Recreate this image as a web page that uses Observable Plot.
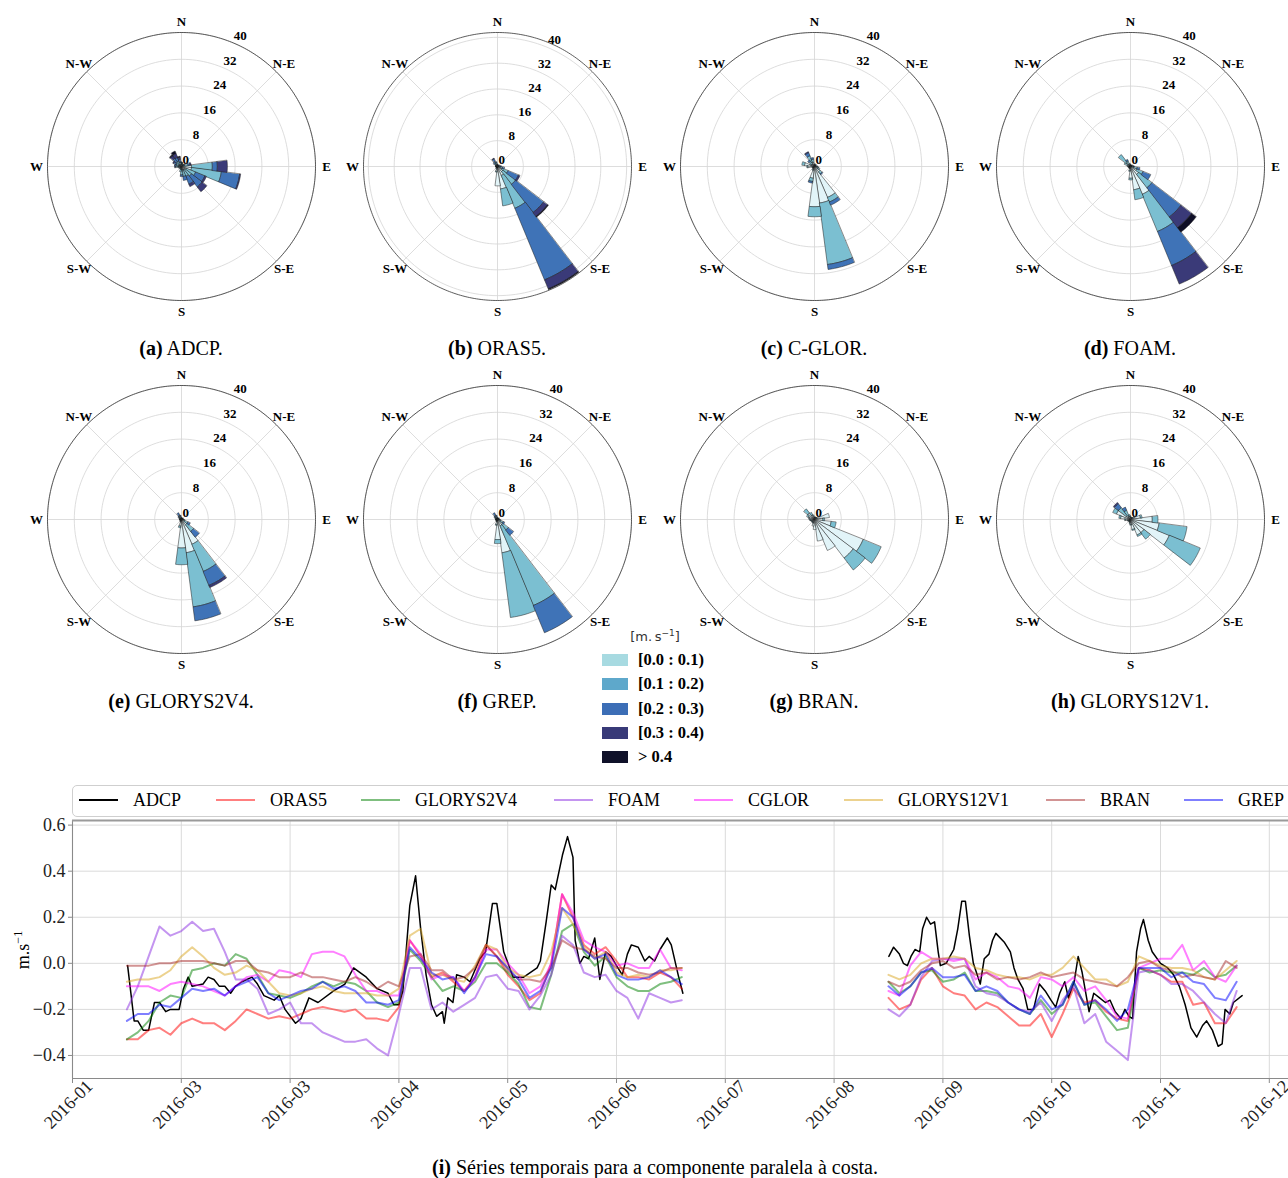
<!DOCTYPE html>
<html><head><meta charset="utf-8">
<script src="https://cdn.jsdelivr.net/npm/d3@7"></script>
<script src="https://cdn.jsdelivr.net/npm/@observablehq/plot@0.6"></script>
<style>
html,body{margin:0;padding:0;background:#fff;}
#page{position:relative;width:1288px;height:1178px;overflow:hidden;font-family:"Liberation Serif",serif;color:#000;}
.abs{position:absolute;}
.cap{position:absolute;font-size:20px;white-space:nowrap;transform:translate(-50%,-50%);}
</style></head><body>
<div id="page"></div>
<script>
// ---------------- DATA ----------------
const speedBins = ["[0.0 : 0.1)", "[0.1 : 0.2)", "[0.2 : 0.3)", "[0.3 : 0.4)", "> 0.4"];
const binColors = ["#e2f4f8", "#7bbfd1", "#3f73b7", "#3a3a78", "#0e0e26"];
const legendColors = ["#a7dae1", "#5ea8cb", "#3c6eb6", "#383a78", "#0f1129"];
const compassLabels = ["N", "N-E", "E", "S-E", "S", "S-W", "W", "N-W"];
const radialTicks = [0, 8, 16, 24, 32, 40];
const panelLetters = ["a", "b", "c", "d", "e", "f", "g", "h"];
const panelNames = ["ADCP.", "ORAS5.", "C-GLOR.", "FOAM.", "GLORYS2V4.", "GREP.", "BRAN.", "GLORYS12V1."];
const panelRmax = [40, 41.5, 40, 40, 40, 40, 40, 40];

// rows: [direction (deg), freq % per speed bin 1..5]
const roseADCP = [
  [0,0.6,0.5,0.3,0,0],[15,0.5,0.5,0.2,0,0],[30,0.5,0.3,0,0,0],[45,0.4,0.3,0,0,0],[60,0.5,0.4,0.2,0,0],
  [75,0.8,1.2,0.6,0.3,0],[90,3,6.2,1.5,3,0],[105,3,9,5.5,0.3,0],[120,1.5,3,3,0.5,0],[135,1.2,2.5,4,1.8,0],
  [150,1.2,2,2.5,0.8,0],[165,1,2,1.2,0,0],[180,1,1.5,0.5,0,0],[195,0.8,0.8,0,0,0],[210,0.5,0.4,0,0,0],
  [225,0.4,0.3,0,0,0],[240,0.4,0.3,0,0,0],[255,0.6,0.4,0,0,0],[270,1,0.8,0.3,0,0],[285,0.8,0.8,0.5,0,0],
  [300,0.8,1,0.7,0.3,0],[315,0.8,1.2,1.2,1,0.3],[330,0.8,1,1.2,1.2,0.8],[345,0.6,0.8,0.8,0.6,0.3]
];
const roseORAS5 = [
  [0,0.5,0.3,0,0,0],[15,0.4,0.2,0,0,0],[30,0.3,0.2,0,0,0],[45,0.3,0.2,0,0,0],[60,0.3,0.2,0,0,0],
  [75,0.4,0.3,0,0,0],[90,0.5,0.4,0.3,0,0],[105,0.8,0.8,0.6,0,0],[120,1.5,2,3.5,0.5,0],[135,2,5,11,1.5,0.3],
  [150,3,11,24,3,0.3],[165,7,5.3,0,0,0],[180,6,0,0,0,0],[195,1.5,0.3,0,0,0],[210,0.6,0.3,0,0,0],
  [225,0.3,0.2,0,0,0],[240,0.3,0.2,0,0,0],[255,0.3,0.2,0,0,0],[270,0.4,0.2,0,0,0],[285,0.4,0.2,0,0,0],
  [300,0.4,0.3,0,0,0],[315,0.6,0.6,0.4,0,0],[330,0.8,1,0.8,0.2,0],[345,0.6,0.6,0.3,0,0]
];
const roseCGLOR = [
  [0,0.5,0.3,0,0,0],[15,0.3,0.2,0,0,0],[30,0.5,0.3,0,0,0],[45,0.4,0.2,0,0,0],[60,0.3,0.2,0,0,0],
  [75,0.3,0.2,0,0,0],[90,0.6,0.3,0,0,0],[105,0.8,0.4,0,0,0],[120,1.2,0.5,0,0,0],[135,2,0.8,0.3,0,0],
  [150,10,1.5,1,0,0],[165,11,18.5,1.5,0,0],[180,12,3,0,0,0],[195,3.5,1,0.5,0,0],[210,1,0.3,0,0,0],
  [225,0.5,0.2,0,0,0],[240,0.5,0.2,0,0,0],[255,0.6,0.2,0,0,0],[270,2,0.3,0,0,0],[285,3,0.8,0,0,0],
  [300,1,0.5,0,0,0],[315,1,1,0.5,0,0],[330,1.5,2,1,0.3,0],[345,1.2,1,0.5,0,0]
];
const roseFOAM = [
  [0,0.4,0.3,0,0,0],[15,0.3,0.2,0,0,0],[30,0.3,0.2,0,0,0],[45,0.3,0.2,0,0,0],[60,0.3,0.2,0,0,0],
  [75,0.4,0.3,0,0,0],[90,0.5,0.4,0.2,0,0],[105,1,1,0.8,0,0],[120,2,2,2.5,0,0],[135,3,5,11,4,1.7],
  [150,9,12,11,6,0],[165,7,3,0,0,0],[180,3.5,0.5,0,0,0],[195,1.2,0.3,0,0,0],[210,0.5,0.2,0,0,0],
  [225,0.4,0.2,0,0,0],[240,0.4,0.2,0,0,0],[255,0.4,0.2,0,0,0],[270,0.5,0.3,0,0,0],[285,0.6,0.4,0,0,0],
  [300,1,1,0,0,0],[315,1.5,3,0,0,0],[330,0.8,1,0.5,0,0],[345,0.5,0.4,0,0,0]
];
const roseGLORYS2V4 = [
  [0,0.4,0.3,0,0,0],[15,0.3,0.2,0,0,0],[30,0.3,0.2,0,0,0],[45,0.3,0.2,0,0,0],[60,0.3,0.2,0,0,0],
  [75,0.3,0.2,0,0,0],[90,0.4,0.3,0,0,0],[105,0.6,0.4,0,0,0],[120,1,1,0.8,0,0],[135,2,2.5,2.2,0,0],
  [150,8,8.8,4.5,0.7,0],[165,10,16.3,4.2,0,0],[180,8.5,5,0,0,0],[195,2,0.5,0,0,0],[210,0.6,0.2,0,0,0],
  [225,0.4,0.2,0,0,0],[240,0.3,0.2,0,0,0],[255,0.3,0.2,0,0,0],[270,0.4,0.2,0,0,0],[285,0.4,0.2,0,0,0],
  [300,0.5,0.3,0,0,0],[315,0.5,0.5,0.3,0,0],[330,0.6,0.8,0.8,0,0],[345,0.5,0.5,0.3,0,0]
];
const roseGREP = [
  [0,0.4,0.3,0,0,0],[15,0.3,0.2,0,0,0],[30,0.3,0.2,0,0,0],[45,0.3,0.2,0,0,0],[60,0.3,0.2,0,0,0],
  [75,0.3,0.2,0,0,0],[90,0.4,0.3,0,0,0],[105,0.6,0.4,0,0,0],[120,1,0.8,0.5,0,0],[135,2,2,2,0,0],
  [150,2,25.8,8.8,0,0],[165,10,19.5,0,0,0],[180,6,1.2,0,0,0],[195,1.5,0.3,0,0,0],[210,0.5,0.2,0,0,0],
  [225,0.4,0.2,0,0,0],[240,0.3,0.2,0,0,0],[255,0.3,0.2,0,0,0],[270,0.4,0.2,0,0,0],[285,0.4,0.2,0,0,0],
  [300,0.5,0.3,0,0,0],[315,0.5,0.5,0.3,0,0],[330,0.6,0.8,0.8,0,0],[345,0.5,0.5,0.3,0,0]
];
const roseBRAN = [
  [0,0.5,0.2,0,0,0],[15,0.5,0.3,0,0,0],[30,0.6,0.2,0,0,0],[45,0.6,0.2,0,0,0],[60,0.8,0.2,0,0,0],
  [75,4.5,0,0,0,0],[90,2.5,0.5,0,0,0],[105,5,1.5,0,0,0],[120,15.7,5.8,0,0,0],[135,14.5,4.5,0,0,0],
  [150,10,0,0,0,0],[165,6.5,0,0,0,0],[180,3,0,0,0,0],[195,2,0,0,0,0],[210,1,0.2,0,0,0],
  [225,0.8,0.2,0,0,0],[240,0.8,0.2,0,0,0],[255,1,0.2,0,0,0],[270,1.2,0.3,0,0,0],[285,1.5,0.3,0,0,0],
  [300,2,0.5,0,0,0],[315,2.5,1.5,0,0,0],[330,1.5,0.8,0,0,0],[345,1,0.4,0,0,0]
];
const roseGLORYS12V1 = [
  [0,0.8,0.3,0,0,0],[15,0.5,0.2,0,0,0],[30,0.5,0.2,0,0,0],[45,0.6,0.2,0,0,0],[60,1,0.3,0,0,0],
  [75,3,0.5,0,0,0],[90,6.5,1.7,0,0,0],[105,8.6,8.4,0,0,0],[120,12.5,10,0,0,0],[135,5,2.4,0,0,0],
  [150,5,0.5,0,0,0],[165,3,0.3,0,0,0],[180,1.5,0.2,0,0,0],[195,1,0.2,0,0,0],[210,0.6,0.2,0,0,0],
  [225,0.5,0.2,0,0,0],[240,0.6,0.2,0,0,0],[255,0.8,0.2,0,0,0],[270,1.5,0.3,0,0,0],[285,3,0.5,0,0,0],
  [300,4.5,1.2,0,0,0],[315,1.5,3,1.5,0.4,0],[330,1,2,1,0,0],[345,1,0.5,0,0,0]
];
const roses = [roseADCP, roseORAS5, roseCGLOR, roseFOAM, roseGLORYS2V4, roseGREP, roseBRAN, roseGLORYS12V1];

// time series (x = days after 2016-01-31)
const tickDays = [0, 30, 60, 90, 120, 150, 180, 210, 240, 270, 300, 330];
const tickLabels = ["2016-01", "2016-03", "2016-03", "2016-04", "2016-05", "2016-06", "2016-07", "2016-08", "2016-09", "2016-10", "2016-11", "2016-12"];
const yTicks = [-0.4, -0.2, 0.0, 0.2, 0.4, 0.6];
const seriesNames = ["ADCP", "ORAS5", "GLORYS2V4", "FOAM", "CGLOR", "GLORYS12V1", "BRAN", "GREP"];
const seriesColors = ["#000000", "#ff0000", "#008000", "#8a2be2", "#ff00ff", "#daa520", "#a52a2a", "#0000ff"];
const daysA = d3.range(15, 169, 3);
const daysB = d3.range(225, 322, 3);

const adcpA = [[15.2,-0.01],[17,-0.25],[18,-0.25],[19.5,-0.29],[21,-0.29],[22.6,-0.17],[24,-0.17],[25.7,-0.21],[27,-0.2],[29.4,-0.2],[30.6,-0.11],[31.9,-0.06],[33,-0.1],[36,-0.09],[37.4,-0.06],[39,-0.07],[40.5,-0.1],[42,-0.1],[43.6,-0.13],[44.9,-0.1],[46.7,-0.08],[49.5,-0.06],[51,-0.09],[52.8,-0.14],[55.6,-0.16],[57,-0.14],[58.6,-0.2],[61.5,-0.26],[63,-0.24],[65.2,-0.15],[67.7,-0.17],[72,-0.12],[75.1,-0.09],[77.5,-0.02],[81,-0.06],[84,-0.11],[87,-0.13],[88.6,-0.18],[90,-0.18],[91.1,-0.12],[93,0.25],[94.6,0.38],[96,0.15],[97.5,-0.05],[99,-0.18],[100.4,-0.23],[102,-0.21],[102.5,-0.26],[103.5,-0.15],[104.9,-0.17],[105.9,-0.05],[108,-0.06],[109.6,-0.08],[112.3,0.02],[113.9,0.05],[115.8,0.26],[117,0.26],[118.9,0.05],[121.5,-0.06],[124.4,-0.06],[128.1,-0.02],[129,0.01],[130.6,0.18],[132,0.34],[133.1,0.32],[135.1,0.47],[136.5,0.55],[138,0.46],[138.6,0.1],[139.9,0],[141,0.03],[142.3,0.02],[144,0.11],[145.4,-0.07],[147,0.05],[148.5,0.03],[150,-0.01],[151.6,-0.05],[153,0.04],[154.1,0.08],[156,0.07],[157.8,0.01],[159,0.03],[160.5,0.01],[162,0.06],[164,0.11],[165.1,0.08],[167,-0.05],[168.3,-0.13]];
const adcpB = [[225.1,0.03],[226.4,0.07],[228,0.04],[229.1,0],[230.2,-0.01],[231.2,0.03],[232.3,0.06],[233.6,0.05],[234.4,0.15],[235.5,0.2],[236.6,0.17],[237.7,0.18],[238.7,0.05],[239.3,-0.01],[240.9,0],[243,0.06],[244.1,0.15],[245.2,0.27],[246.2,0.27],[247.3,0.12],[248.4,0],[250.3,-0.09],[251.4,0.02],[252.7,0.04],[253.7,0.1],[254.6,0.13],[257,0.09],[258.6,0.05],[259.6,-0.02],[260.7,-0.07],[262.1,-0.11],[263.4,-0.2],[265,-0.2],[266.6,-0.09],[268.2,-0.12],[269.8,-0.16],[271.1,-0.19],[272.2,-0.13],[273.6,-0.08],[274.6,-0.15],[276.2,-0.08],[277.3,0.03],[278.4,-0.04],[280.3,-0.21],[281.6,-0.13],[283.2,-0.15],[284.8,-0.17],[286.1,-0.16],[287.5,-0.21],[289.1,-0.24],[290.2,-0.2],[291.3,-0.23],[292.3,-0.24],[293.4,0.05],[294.5,0.15],[295.3,0.19],[296.6,0.1],[297.7,0.05],[300,0],[302,-0.02],[303.6,-0.05],[305.2,-0.1],[306.8,-0.18],[308.4,-0.28],[310,-0.32],[311.6,-0.27],[312.7,-0.25],[314.3,-0.29],[315.9,-0.36],[317,-0.35],[317.8,-0.2],[319.1,-0.22],[320.1,-0.17],[322.5,-0.14]];

const oras5A = [-0.33,-0.33,-0.29,-0.28,-0.31,-0.26,-0.24,-0.26,-0.26,-0.29,-0.25,-0.2,-0.22,-0.24,-0.23,-0.24,-0.22,-0.2,-0.19,-0.2,-0.21,-0.2,-0.24,-0.24,-0.25,-0.19,0.1,0.03,-0.06,-0.04,-0.08,-0.12,-0.06,0.08,0.03,-0.05,-0.1,-0.16,-0.13,0.0,0.3,0.2,0.08,0.04,0.07,0.01,-0.06,-0.06,-0.07,-0.04,-0.06,-0.11];
const oras5B = [-0.15,-0.2,-0.18,-0.07,-0.02,-0.1,-0.13,-0.14,-0.2,-0.17,-0.19,-0.23,-0.27,-0.27,-0.22,-0.32,-0.22,-0.11,-0.17,-0.16,-0.21,-0.24,-0.25,-0.02,-0.03,-0.05,-0.08,-0.08,-0.18,-0.17,-0.26,-0.26,-0.19];
const glorys2v4A = [-0.33,-0.3,-0.25,-0.17,-0.14,-0.15,-0.03,-0.02,0.0,-0.01,0.04,0.02,-0.05,-0.13,-0.14,-0.15,-0.13,-0.1,-0.08,-0.1,-0.08,-0.09,-0.12,-0.17,-0.19,-0.17,0.06,0.01,-0.06,-0.12,-0.1,-0.12,-0.08,0.0,0.0,-0.04,-0.09,-0.19,-0.2,-0.05,0.14,0.17,0.05,-0.01,0.03,-0.06,-0.1,-0.12,-0.12,-0.09,-0.08,-0.06];
const glorys2v4B = [-0.08,-0.13,-0.1,-0.04,-0.03,-0.08,-0.07,-0.04,-0.12,-0.12,-0.13,-0.17,-0.2,-0.22,-0.16,-0.22,-0.18,-0.08,-0.18,-0.17,-0.23,-0.29,-0.28,-0.02,-0.04,-0.03,-0.04,-0.04,-0.05,-0.02,-0.06,-0.05,-0.01];
const foamA = [-0.2,-0.1,0.03,0.16,0.12,0.14,0.18,0.14,0.15,0.05,-0.07,-0.07,-0.11,-0.22,-0.2,-0.17,-0.26,-0.26,-0.3,-0.32,-0.34,-0.34,-0.33,-0.37,-0.4,-0.22,-0.02,-0.02,-0.2,-0.17,-0.21,-0.18,-0.15,-0.06,-0.05,-0.11,-0.12,-0.2,-0.14,-0.05,0.12,0.08,-0.04,-0.06,-0.05,-0.12,-0.15,-0.24,-0.13,-0.15,-0.17,-0.16];
const foamB = [-0.2,-0.23,-0.18,-0.06,0.01,0.02,0.02,0.02,-0.1,-0.13,-0.14,-0.17,-0.2,-0.21,-0.17,-0.25,-0.16,-0.1,-0.26,-0.22,-0.34,-0.38,-0.42,-0.04,-0.03,-0.05,-0.09,-0.09,-0.12,-0.17,-0.22,-0.26,-0.12];
const cglorA = [-0.1,-0.1,-0.1,-0.12,-0.09,-0.08,-0.09,-0.1,-0.12,-0.14,-0.1,-0.06,-0.05,-0.08,-0.03,-0.04,-0.06,0.04,0.05,0.05,0.03,-0.05,-0.12,-0.12,-0.14,-0.14,0.1,0.04,-0.07,-0.05,-0.06,-0.12,-0.07,0.06,0.06,0.0,-0.05,-0.13,-0.1,0.0,0.3,0.22,0.1,0.07,0.05,-0.01,0.0,-0.02,-0.02,0.06,-0.02,-0.03];
const cglorB = [-0.12,-0.14,-0.01,0.05,0.02,0.02,0.01,0.02,-0.07,-0.04,-0.06,-0.1,-0.11,-0.15,-0.06,-0.07,-0.1,-0.06,-0.12,-0.1,-0.16,-0.23,-0.24,-0.02,0.0,0.02,0.02,0.08,-0.03,0.01,-0.06,-0.08,-0.01];
const glorys12v1A = [-0.08,-0.07,-0.07,-0.06,-0.03,0.03,0.07,0.03,-0.02,-0.05,-0.04,-0.01,-0.03,-0.08,-0.13,-0.14,-0.13,-0.11,-0.1,-0.12,-0.13,-0.13,-0.13,-0.14,-0.14,-0.11,0.12,0.15,-0.05,-0.05,-0.07,-0.08,-0.01,0.08,0.06,-0.02,-0.05,-0.06,-0.05,0.05,0.24,0.17,0.07,0.02,0.05,-0.04,-0.06,-0.05,-0.06,-0.03,-0.03,-0.02];
const glorys12v1B = [-0.05,-0.07,-0.05,0.0,0.02,0.02,0.03,0.02,-0.02,-0.03,-0.05,-0.06,-0.06,-0.07,-0.05,-0.05,-0.02,0.03,-0.02,-0.07,-0.07,-0.1,-0.08,0.03,0.01,-0.01,-0.02,-0.02,-0.03,-0.06,-0.07,-0.03,0.01];
const branA = [-0.01,-0.01,-0.01,0.0,0.0,0.01,0.01,0.01,0.0,-0.01,0.01,0.01,-0.03,-0.04,-0.06,-0.06,-0.04,-0.06,-0.06,-0.07,-0.08,-0.06,-0.08,-0.11,-0.08,-0.1,0.03,0.04,-0.03,-0.03,-0.07,-0.06,-0.02,0.08,0.03,-0.03,-0.07,-0.07,-0.08,-0.02,0.1,0.07,0.06,0.03,0.02,-0.02,-0.02,-0.04,-0.05,-0.04,-0.02,-0.02];
const branB = [-0.08,-0.1,-0.08,-0.03,0.0,0.01,-0.02,-0.01,-0.05,-0.04,-0.07,-0.06,-0.07,-0.06,-0.04,-0.06,-0.05,-0.04,-0.07,-0.08,-0.09,-0.1,-0.06,0.0,0.01,-0.02,-0.03,-0.06,-0.05,-0.06,-0.07,0.01,-0.02];
const grepA = [-0.25,-0.22,-0.22,-0.18,-0.19,-0.15,-0.11,-0.12,-0.11,-0.14,-0.1,-0.08,-0.06,-0.13,-0.16,-0.14,-0.12,-0.11,-0.08,-0.11,-0.1,-0.12,-0.17,-0.17,-0.18,-0.16,0.07,0.02,-0.04,-0.07,-0.06,-0.13,-0.06,0.04,0.03,-0.02,-0.07,-0.15,-0.12,-0.02,0.24,0.2,0.06,0.02,0.04,-0.05,-0.07,-0.07,-0.06,-0.03,-0.06,-0.09];
const grepB = [-0.1,-0.14,-0.1,-0.04,-0.02,-0.06,-0.06,-0.05,-0.12,-0.1,-0.12,-0.17,-0.2,-0.22,-0.14,-0.2,-0.18,-0.08,-0.18,-0.16,-0.2,-0.25,-0.2,-0.02,-0.02,-0.02,-0.06,-0.04,-0.08,-0.09,-0.15,-0.16,-0.08];
const modelSeries = [[oras5A, oras5B], [glorys2v4A, glorys2v4B], [foamA, foamB], [cglorA, cglorB], [glorys12v1A, glorys12v1B], [branA, branB], [grepA, grepB]];

// ---------------- DRAWING ----------------
const page = document.getElementById("page");
const SERIF = "Liberation Serif, Times New Roman, serif";
function el(tag, css, html) { const e = document.createElement(tag); e.style.cssText = css; if (html != null) e.innerHTML = html; page.appendChild(e); return e; }

function rose(rows, rmax) {
  const S = 316, Rpx = 134;
  const L = rmax * (S / 2) / Rpx;
  const rad = a => a * Math.PI / 180;
  const polar = (r, a) => [r * Math.sin(rad(a)), r * Math.cos(rad(a))];
  const segs = [];
  for (const [dir, ...fr] of rows) {
    let r0 = 0;
    fr.forEach((f, bin) => {
      if (!(f > 0)) return;
      const r1 = r0 + f, id = dir + "_" + bin;
      for (let k = 0; k <= 12; k++) { const [x, y] = polar(r1, dir - 7.5 + 15 * k / 12); segs.push({id, bin, x, y}); }
      for (let k = 12; k >= 0; k--) { const [x, y] = polar(r0, dir - 7.5 + 15 * k / 12); segs.push({id, bin, x, y}); }
      r0 = r1;
    });
  }
  const ringPts = [];
  for (const t of radialTicks.filter(t => t > 0)) for (let a = 0; a < 360; a += 2) { const [x, y] = polar(t, a); ringPts.push({t, x, y}); }
  const outer = d3.range(0, 360, 1).map(a => { const [x, y] = polar(rmax, a); return {x, y}; });
  const spokes = d3.range(0, 360, 45).map(a => { const [x, y] = polar(rmax, a); return {x2: x, y2: y}; });
  const comp = compassLabels.map((label, i) => { const [x, y] = polar(rmax * 1.082, i * 45); return {label, x, y}; });
  const rl = radialTicks.map(t => { const [x, y] = polar(t, 22.5); return {t, x, y}; });
  return Plot.plot({
    width: S, height: S, margin: 0,
    x: {domain: [-L, L], range: [0, S], axis: null},
    y: {domain: [-L, L], range: [S, 0], axis: null},
    style: {background: "transparent", overflow: "visible"},
    marks: [
      Plot.line(ringPts, {x: "x", y: "y", z: "t", curve: "linear-closed", stroke: "#d4d4d4", strokeWidth: 0.8}),
      Plot.link(spokes, {x1: () => 0, y1: () => 0, x2: "x2", y2: "y2", stroke: "#d4d4d4", strokeWidth: 0.8}),
      ...binColors.map((c, i) => Plot.line(segs.filter(d => d.bin === i), {x: "x", y: "y", z: "id", curve: "linear-closed", fill: c, stroke: "#1a1a1a", strokeWidth: 0.5})),
      Plot.line(outer, {x: "x", y: "y", curve: "linear-closed", stroke: "#333", strokeWidth: 0.8}),
      Plot.text(comp, {x: "x", y: "y", text: "label", fontWeight: "bold", fontSize: 13, fontFamily: SERIF, fill: "#000"}),
      Plot.text(rl, {x: "x", y: "y", text: d => String(d.t), textAnchor: "start", dx: 1, dy: -7, fontWeight: "bold", fontSize: 13, fontFamily: SERIF, fill: "#000"})
    ]
  });
}

const colCx = [181, 497, 814, 1130];
const rowCy = [166, 519];
const capY = [348, 701];
roses.forEach((rows, i) => {
  const col = i % 4, row = Math.floor(i / 4);
  const svg = rose(rows, panelRmax[i]);
  const wrap = el("div", `position:absolute;left:${colCx[col] - 158}px;top:${rowCy[row] - 158}px;width:316px;height:316px;`);
  wrap.appendChild(svg);
  el("div", `position:absolute;left:${colCx[col]}px;top:${capY[row]}px;font-size:20px;white-space:nowrap;transform:translate(-50%,-50%);font-family:${SERIF};`,
     `<b>(${panelLetters[i]})</b> ${panelNames[i]}`);
});

// speed legend
el("div", `position:absolute;left:655px;top:636px;transform:translate(-50%,-50%);font-family:'DejaVu Sans',sans-serif;font-size:13px;color:#333;white-space:nowrap;`, `[m.&thinsp;s<sup style="font-size:9px">−1</sup>]`);
speedBins.forEach((lab, i) => {
  const cy = 660 + i * 24.3;
  el("div", `position:absolute;left:602px;top:${cy - 6}px;width:26px;height:12px;background:${legendColors[i]};`);
  el("div", `position:absolute;left:638px;top:${cy}px;transform:translateY(-50%);font-family:${SERIF};font-weight:bold;font-size:16.5px;white-space:nowrap;`, lab);
});

// time-series legend box
el("div", `position:absolute;left:72px;top:785px;width:1240px;height:30px;border:1px solid #cfcfcf;border-radius:5px;background:#fff;`);
const legLineX = [79, 216, 361, 554, 694, 844, 1046, 1184];
seriesNames.forEach((n, i) => {
  el("div", `position:absolute;left:${legLineX[i]}px;top:799px;width:39px;height:2px;background:${seriesColors[i]};opacity:${i === 0 ? 1 : 0.5};`);
  el("div", `position:absolute;left:${legLineX[i] + 54}px;top:800px;transform:translateY(-50%);font-family:${SERIF};font-size:18px;white-space:nowrap;`, n);
});

// time series plot
const pxPerDay = 108.8 / 30;
const rowsA = [];
modelSeries.forEach(([a, b], s) => {
  a.forEach((v, k) => rowsA.push({s: s + 1, seg: 0, day: daysA[k], v}));
  b.forEach((v, k) => rowsA.push({s: s + 1, seg: 1, day: daysB[k], v}));
});
const adcpRows = [...adcpA.map(([day, v]) => ({seg: 0, day, v})), ...adcpB.map(([day, v]) => ({seg: 1, day, v}))];
const fmtY = v => (v < 0 ? "−" : "") + Math.abs(v).toFixed(1);

const ts = Plot.plot({
  width: 1288, height: 380, marginLeft: 72, marginRight: 0, marginTop: 50, marginBottom: 72,
  x: {domain: [0, 336], range: [72, 72 + 336 * pxPerDay], axis: null},
  y: {domain: [-0.5, 0.62], range: [308, 50], axis: null},
  style: {fontFamily: SERIF, fontSize: "18px", background: "transparent", overflow: "hidden"},
  marks: [
    Plot.ruleX(tickDays, {x: d => d, stroke: "#d6d6d6", strokeWidth: 0.9}),
    Plot.ruleY(yTicks, {y: d => d, stroke: "#d6d6d6", strokeWidth: 0.9}),
    Plot.ruleX([0], {x: d => d, stroke: "#8a8a8a", strokeWidth: 1.1}),
    Plot.ruleY([-0.5], {y: d => d, stroke: "#8a8a8a", strokeWidth: 1.1}),
    Plot.ruleY([0.62], {y: d => d, stroke: "#9a9a9a", strokeWidth: 2}),
    Plot.axisX({ticks: tickDays, tickFormat: () => "", tickSize: 5, stroke: "#8a8a8a", label: null}),
    Plot.axisY({ticks: yTicks, tickFormat: fmtY, tickSize: 4, tickPadding: 3, stroke: "#8a8a8a", fill: "#222", label: null, fontSize: 18}),
    Plot.text(tickDays, {x: d => d, frameAnchor: "bottom", text: (d, i) => tickLabels[i], rotate: -45, dy: 30, fontSize: 18, fill: "#222"}),
    Plot.line(adcpRows, {x: "day", y: "v", z: "seg", stroke: "#000", strokeWidth: 1.5}),
    ...seriesColors.slice(1).map((c, k) => Plot.line(rowsA.filter(d => d.s === k + 1), {x: "day", y: "v", z: "seg", stroke: c, strokeWidth: 2, strokeOpacity: 0.5}))
  ]
});
const tsWrap = el("div", `position:absolute;left:0;top:770px;width:1288px;height:380px;overflow:hidden;`);
tsWrap.appendChild(ts);

el("div", `position:absolute;left:22px;top:950px;transform:translate(-50%,-50%) rotate(-90deg);font-family:${SERIF};font-size:18px;white-space:nowrap;`, `m.s<sup style="font-size:12px">−1</sup>`);
el("div", `position:absolute;left:655px;top:1167px;transform:translate(-50%,-50%);font-family:${SERIF};font-size:20px;white-space:nowrap;`, `<b>(i)</b> Séries temporais para a componente paralela à costa.`);
</script>
</body></html>
